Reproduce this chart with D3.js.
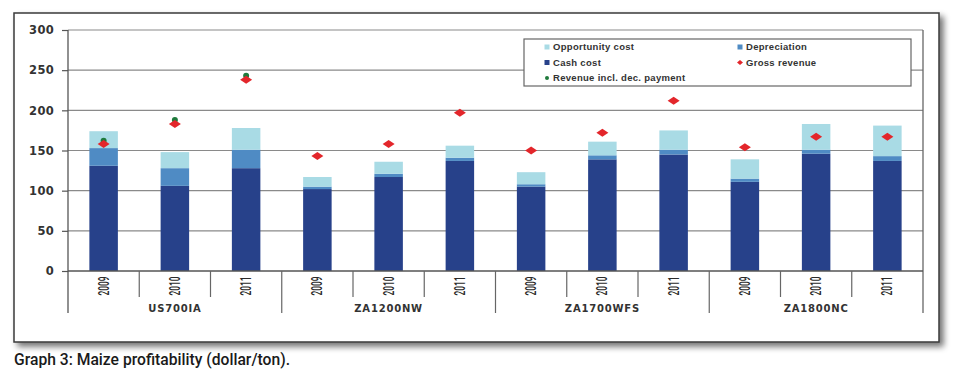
<!DOCTYPE html>
<html>
<head>
<meta charset="utf-8">
<script src="https://cdn.jsdelivr.net/npm/d3@7"></script>
<style>
  html, body { margin: 0; padding: 0; background: #ffffff; }
  svg { display: block; }
</style>
</head>
<body>
<svg id="chart" width="960" height="373"></svg>
<script>
// ---- data ----
const groups = ["US700IA", "ZA1200NW", "ZA1700WFS", "ZA1800NC"];
const years = ["2009", "2010", "2011"];
const cashCost =        [131, 106, 128, 102, 117, 137, 105, 139, 145, 111, 146, 137];
const depreciation =    [ 22,  22,  23,   3,   4,   4,   3,   5,   6,   4,   5,   6];
const opportunityCost = [ 21,  20,  27,  12,  15,  15,  15,  17,  24,  24,  32,  38];
const grossRevenue =    [158, 183, 238, 143, 158, 197, 150, 172, 212, 154, 167, 167];
const revenueDecPayment = [162, 188, 243, null, null, null, null, null, null, null, null, null];
const yTicks = [0, 50, 100, 150, 200, 250, 300];
const seriesNames = ["Cash cost", "Depreciation", "Opportunity cost"];
const legendLabels = ["Opportunity cost", "Depreciation", "Cash cost", "Gross revenue", "Revenue incl. dec. payment"];
const captionText = "Graph 3: Maize profitability (dollar/ton).";

(function () {
// ---- build table ----
const rows = [];
groups.forEach((g, gi) => years.forEach((yr, yi) => {
  const i = gi * years.length + yi;
  rows.push({
    key: g + "-" + yr, group: g, year: yr,
    "Cash cost": cashCost[i],
    "Depreciation": depreciation[i],
    "Opportunity cost": opportunityCost[i],
    gross: grossRevenue[i],
    dec: revenueDecPayment[i]
  });
}));

const colors = {
  "Cash cost": "#27418a",
  "Depreciation": "#4f8bc4",
  "Opportunity cost": "#a9dbe5",
  gross: "#e3262b",
  dec: "#1f7a3c"
};

const svg = d3.select("#chart");
const defs = svg.append("defs");
const filt = defs.append("filter").attr("id", "shadow")
  .attr("x", "-5%").attr("y", "-5%").attr("width", "115%").attr("height", "125%");
filt.append("feGaussianBlur").attr("in", "SourceAlpha").attr("stdDeviation", 3);
filt.append("feOffset").attr("dx", 4).attr("dy", 4).attr("result", "ob");
filt.append("feComponentTransfer").append("feFuncA").attr("type", "linear").attr("slope", 0.55);
const fm = filt.append("feMerge");
fm.append("feMergeNode");
fm.append("feMergeNode").attr("in", "SourceGraphic");

// outer frame
svg.append("rect")
  .attr("x", 14).attr("y", 13).attr("width", 925).attr("height", 329)
  .attr("fill", "#ffffff").attr("stroke", "#3a3a3a").attr("stroke-width", 1.5)
  .attr("filter", "url(#shadow)");

const pL = 68, pR = 923, pT = 30, pB = 271;

const x = d3.scaleBand().domain(rows.map(d => d.key)).range([pL, pR]).paddingInner(0).paddingOuter(0);
const y = d3.scaleLinear().domain([0, 300]).range([pB, pT]);
const bw = x.bandwidth() * 0.4;

// gridlines
svg.append("g").selectAll("line").data(yTicks.filter(t => t > 0)).join("line")
  .attr("x1", pL).attr("x2", pR)
  .attr("y1", d => y(d)).attr("y2", d => y(d))
  .attr("stroke", "#8a8a8a").attr("stroke-width", 1.2);

// y axis
const yAxis = d3.axisLeft(y).tickValues(yTicks).tickSize(6).tickPadding(8);
const ya = svg.append("g").attr("transform", `translate(${pL},0)`).call(yAxis);
ya.select(".domain").remove();
ya.selectAll(".tick line").attr("stroke", "#555").attr("stroke-width", 1.2);
ya.selectAll(".tick text")
  .attr("font-family", "DejaVu Sans, sans-serif").attr("font-weight", "bold")
  .attr("font-size", 11.5).attr("fill", "#333").attr("letter-spacing", 0.3);

// stacked bars
const stack = d3.stack().keys(seriesNames)(rows);
svg.append("g").selectAll("g").data(stack).join("g")
  .attr("fill", d => colors[d.key])
  .selectAll("rect").data(d => d).join("rect")
  .attr("x", d => x(d.data.key) + (x.bandwidth() - bw) / 2)
  .attr("width", bw)
  .attr("y", d => y(d[1]))
  .attr("height", d => y(d[0]) - y(d[1]));

// plot frame lines (left, right)
svg.append("line").attr("x1", pL).attr("x2", pL).attr("y1", pT).attr("y2", 313)
  .attr("stroke", "#555").attr("stroke-width", 1.3);
svg.append("line").attr("x1", pR).attr("x2", pR).attr("y1", pT).attr("y2", 313)
  .attr("stroke", "#666").attr("stroke-width", 1.3);
// baseline
svg.append("line").attr("x1", pL).attr("x2", pR).attr("y1", y(0)).attr("y2", y(0))
  .attr("stroke", "#555").attr("stroke-width", 1.3);

// category separators
const step = x.step();
const sepData = d3.range(1, rows.length).map(i => ({ i, isGroup: i % years.length === 0 }));
svg.append("g").selectAll("line").data(sepData).join("line")
  .attr("x1", d => pL + d.i * step).attr("x2", d => pL + d.i * step)
  .attr("y1", y(0)).attr("y2", d => d.isGroup ? 313 : 297)
  .attr("stroke", "#666").attr("stroke-width", 1.2);

// year labels (rotated)
svg.append("g").selectAll("text").data(rows).join("text")
  .attr("transform", d => `translate(${x(d.key) + x.bandwidth() / 2 + 5},${286}) rotate(-90)`)
  .attr("text-anchor", "middle")
  .attr("font-family", "Roboto, DejaVu Sans Condensed, sans-serif")
  .attr("font-weight", 500)
  .attr("font-size", 14.5).attr("fill", "#2a2a2a")
  .attr("textLength", 19).attr("lengthAdjust", "spacingAndGlyphs")
  .text(d => d.year);

// group labels
svg.append("g").selectAll("text").data(groups).join("text")
  .attr("x", (d, i) => pL + (i * years.length + years.length / 2) * step)
  .attr("y", 312)
  .attr("text-anchor", "middle")
  .attr("font-family", "DejaVu Sans, sans-serif").attr("font-weight", "bold")
  .attr("font-size", 10).attr("fill", "#333").attr("letter-spacing", 0.8)
  .text(d => d);

// legend box
const lg = svg.append("g");
lg.append("rect").attr("x", 524).attr("y", 39).attr("width", 387).attr("height", 47)
  .attr("fill", "#ffffff").attr("stroke", "#666").attr("stroke-width", 1.2);

const legendItems = [
  { label: legendLabels[0], key: "Opportunity cost", shape: "sq", x: 547, y: 47 },
  { label: legendLabels[1], key: "Depreciation", shape: "sq", x: 740, y: 47 },
  { label: legendLabels[2], key: "Cash cost", shape: "sq", x: 547, y: 62.5 },
  { label: legendLabels[3], key: "gross", shape: "dia", x: 740, y: 62.5 },
  { label: legendLabels[4], key: "dec", shape: "dot", x: 547, y: 78 }
];
const li = lg.selectAll("g").data(legendItems).join("g")
  .attr("transform", d => `translate(${d.x},${d.y})`);
li.filter(d => d.shape === "sq").append("rect")
  .attr("x", -2.5).attr("y", -2.5).attr("width", 5).attr("height", 5)
  .attr("fill", d => colors[d.key]);
li.filter(d => d.shape === "dia").append("path")
  .attr("d", "M-3,0L0,-2.5L3,0L0,2.5Z").attr("fill", d => colors[d.key]);
li.filter(d => d.shape === "dot").append("circle")
  .attr("r", 2).attr("fill", d => colors[d.key]);
li.append("text").attr("x", 6).attr("y", 3.2)
  .attr("font-family", "Liberation Sans, Arial, sans-serif").attr("font-weight", "bold")
  .attr("font-size", 9.5).attr("fill", "#333").attr("letter-spacing", 0.3)
  .text(d => d.label);

// markers: revenue incl. dec. payment (green dots)
svg.append("g").selectAll("circle").data(rows.filter(d => d.dec != null)).join("circle")
  .attr("cx", d => x(d.key) + x.bandwidth() / 2)
  .attr("cy", d => y(d.dec))
  .attr("r", 3).attr("fill", colors.dec);

// markers: gross revenue (red diamonds)
svg.append("g").selectAll("path").data(rows).join("path")
  .attr("transform", d => `translate(${x(d.key) + x.bandwidth() / 2},${y(d.gross)})`)
  .attr("d", "M-6,0L0,-4L6,0L0,4Z")
  .attr("fill", colors.gross);

// caption
svg.append("text").attr("x", 14).attr("y", 365)
  .attr("font-family", "Roboto, DejaVu Sans Condensed, sans-serif")
  .attr("font-weight", 500)
  .attr("font-size", 16.5).attr("fill", "#1a1a1a")
  .attr("textLength", 276).attr("lengthAdjust", "spacingAndGlyphs")
  .text(captionText);
})();
</script>
</body>
</html>
